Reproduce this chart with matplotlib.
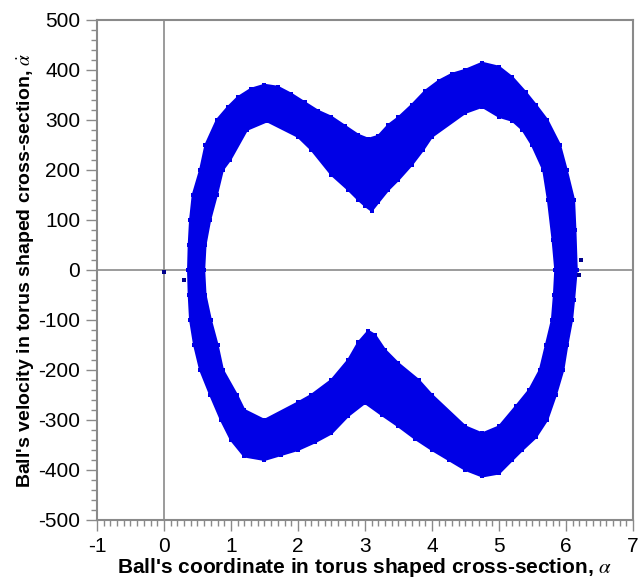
import numpy as np
import matplotlib
matplotlib.use("Agg")
import matplotlib.pyplot as plt
from matplotlib.path import Path
from matplotlib.patches import PathPatch
from matplotlib.ticker import MultipleLocator

# outer edge of the point cloud (alpha, alpha_dot), clockwise from the left side
outer_alpha = [0.36, 0.37, 0.39, 0.43, 0.54, 0.62, 0.79, 0.95, 1.10, 1.30, 1.50,
               1.70, 1.90, 2.10, 2.30, 2.50, 2.70, 2.90, 3.05, 3.20, 3.35, 3.50,
               3.70, 3.90, 4.10, 4.30, 4.50, 4.75, 5.00, 5.20, 5.40, 5.55, 5.72,
               5.91, 6.01, 6.12, 6.14, 6.16, 6.12, 6.09, 6.02, 5.96, 5.85, 5.72,
               5.55, 5.35, 5.20, 5.00, 4.75, 4.50, 4.25, 4.00, 3.75, 3.50, 3.25,
               3.00, 2.75, 2.50, 2.25, 2.00, 1.75, 1.50, 1.20, 1.00, 0.85, 0.69,
               0.54, 0.45, 0.39, 0.37]
outer_rate = [0, 50, 100, 150, 200, 250, 300, 325, 345, 362, 370,
              366, 352, 335, 318, 306, 288, 270, 262, 268, 290, 305,
              330, 358, 378, 392, 400, 414, 406, 385, 355, 330, 300,
              250, 200, 140, 80, 0, -60, -100, -150, -200, -250, -300,
              -335, -360, -380, -407, -413, -400, -380, -360, -338, -313, -290,
              -266, -292, -327, -345, -360, -370, -380, -373, -340, -300, -250,
              -200, -150, -100, -50]

# inner edge (edge of the empty middle), same direction
inner_alpha = [0.60, 0.62, 0.69, 0.79, 0.88, 0.99, 1.24, 1.54, 2.00, 2.20, 2.50,
               2.75, 2.90, 3.00, 3.10, 3.20, 3.35, 3.50, 3.70, 3.87, 4.00, 4.50,
               4.75, 5.00, 5.20, 5.35, 5.49, 5.66, 5.73, 5.80, 5.84, 5.82, 5.79,
               5.70, 5.61, 5.45, 5.25, 5.00, 4.75, 4.50, 4.00, 3.80, 3.50, 3.30,
               3.15, 3.05, 2.90, 2.75, 2.50, 2.20, 2.00, 1.50, 1.20, 1.09, 0.88,
               0.80, 0.70, 0.62]
inner_rate = [0, 50, 100, 150, 200, 220, 280, 297, 266, 240, 190,
              160, 140, 128, 118, 135, 160, 180, 210, 240, 266, 314,
              326, 306, 298, 280, 250, 200, 140, 60, 0, -50, -100,
              -150, -200, -240, -273, -313, -327, -313, -250, -220, -187, -160,
              -130, -122, -145, -180, -220, -250, -265, -300, -280, -250, -200,
              -150, -100, -50]

# stray samples off the main cloud
stray_alpha = [0.0, 0.30, 6.22, 6.20]
stray_rate = [-4, -20, 20, -10]

BLUE = "#0000e6"
GRAY = "#8a8a8a"

plt.rcParams["font.family"] = ["Liberation Sans", "DejaVu Sans"]
plt.rcParams["mathtext.fontset"] = "stix"
plt.rcParams["axes.unicode_minus"] = False


def closed_ring(xs, ys):
    pts = np.column_stack([xs + xs[:1], ys + ys[:1]])
    codes = [Path.MOVETO] + [Path.LINETO] * (len(pts) - 2) + [Path.CLOSEPOLY]
    return pts, codes


fig = plt.figure(figsize=(6.42, 5.81), dpi=100)
ax = fig.add_axes([0.151, 0.105, 0.835, 0.861])

ax.axhline(0, color=GRAY, linewidth=1.2, zorder=1)
ax.axvline(0, color=GRAY, linewidth=1.2, zorder=1)

outer, outer_codes = closed_ring(outer_alpha, outer_rate)
inner, inner_codes = closed_ring(inner_alpha[::-1], inner_rate[::-1])
ring = PathPatch(Path(np.vstack([outer, inner]), outer_codes + inner_codes),
                 facecolor=BLUE, edgecolor=BLUE, linewidth=1.5,
                 joinstyle="round", zorder=2)
ax.add_patch(ring)

ax.scatter(outer_alpha + inner_alpha, outer_rate + inner_rate, marker="s",
           s=10, color=BLUE, linewidths=0, zorder=3)
ax.scatter(stray_alpha, stray_rate, marker="s", s=9, color="#00008b",
           linewidths=0, zorder=3)

ax.set_xlim(-1, 7)
ax.set_ylim(-500, 500)
ax.xaxis.set_major_locator(MultipleLocator(1))
ax.xaxis.set_minor_locator(MultipleLocator(0.1))
ax.yaxis.set_major_locator(MultipleLocator(100))
ax.yaxis.set_minor_locator(MultipleLocator(20))

for side in ax.spines.values():
    side.set_color(GRAY)
    side.set_linewidth(1.5)
ax.tick_params(which="both", direction="out", color=GRAY, width=1,
               labelsize=15, labelcolor="black")
ax.tick_params(which="major", length=8, pad=4)
ax.tick_params(which="minor", length=4)

ax.set_xlabel("Ball's coordinate in torus shaped cross-section, $\\alpha$",
              fontsize=15, fontweight="bold", labelpad=0)
ax.set_ylabel("Ball's velocity in torus shaped cross-section, $\\dot{\\alpha}$",
              fontsize=14, fontweight="bold", labelpad=1)

fig.savefig("out.png", dpi=100)
